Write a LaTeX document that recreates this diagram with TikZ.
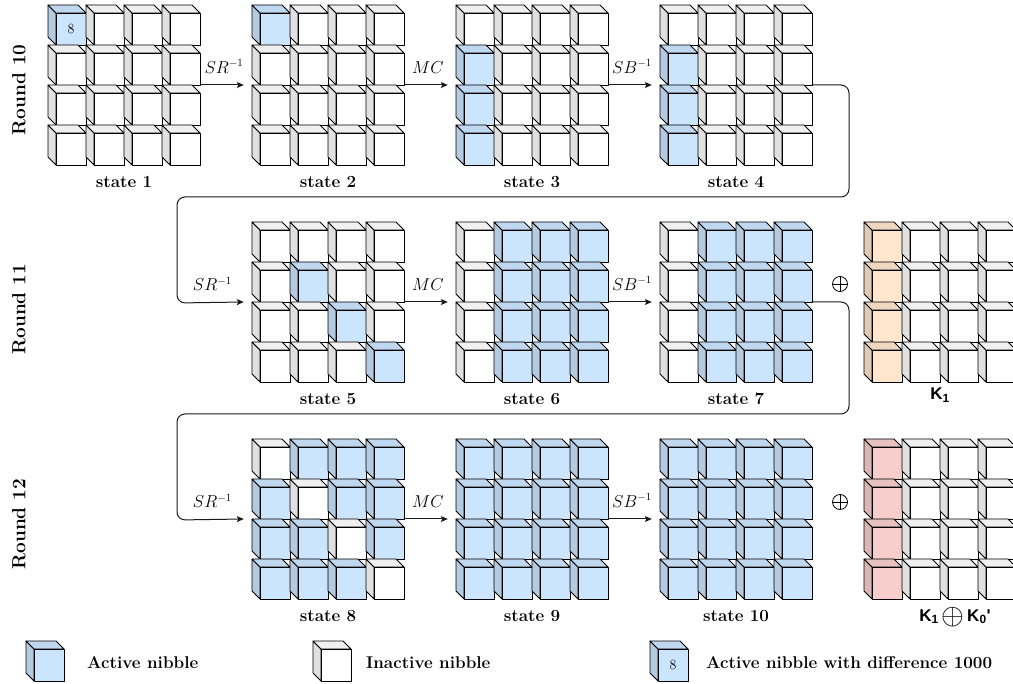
\documentclass[tikz,border=0pt]{standalone}
\usepackage{fontspec}
\newfontfamily\keyfont{Liberation Sans}
\usetikzlibrary{arrows.meta}

% nibble colours (front faces); top and side faces are darker mixes
\definecolor{nw}{HTML}{FFFFFF}
\definecolor{nb}{HTML}{CCE5FF}
\definecolor{no}{HTML}{FFE6CC}
\definecolor{nr}{HTML}{F8CECC}
\definecolor{wire}{HTML}{1A1A1A}

\tikzset{
  cubeedge/.style={draw=black, line width=0.8pt, line join=round},
  gridbox/.style={draw=none, inner sep=0pt, minimum width=152pt, minimum height=160pt},
  arr/.style={draw=wire, line width=1pt, -{Stealth[length=7pt,width=6pt,inset=1.5pt]}},
  oplbl/.style={font=\fontsize{16}{18}\selectfont, above=8pt, midway, xshift=2pt},
  statelbl/.style={font=\fontsize{17}{20}\selectfont\bfseries, anchor=base},
  roundlbl/.style={font=\fontsize{19}{22}\selectfont\bfseries, rotate=90},
  keylbl/.style={font=\fontsize{17}{20}\selectfont\keyfont\bfseries, anchor=base, inner sep=0pt},
  leglbl/.style={font=\fontsize{17}{20}\selectfont\bfseries, anchor=base west, inner sep=0pt},
  digit/.style={font=\fontsize{14}{16}\selectfont, inner sep=0pt},
  xorsym/.style={circle, draw=black, line width=0.8pt, minimum size=15pt, inner sep=0pt,
    path picture={\draw[line width=0.8pt]
      (path picture bounding box.north) -- (path picture bounding box.south)
      (path picture bounding box.west) -- (path picture bounding box.east);}},
}

% one nibble drawn as a cube; #2,#3 = back top-left corner
\newcommand\nib[3]{%
  \filldraw[cubeedge, fill=#1!88!black] (#2,#3) -- ++(8,8) -- ++(0,32) -- ++(-8,-8) -- cycle;
  \filldraw[cubeedge, fill=#1!94!black] (#2,#3) -- ++(30,0) -- ++(8,8) -- ++(-30,0) -- cycle;
  \filldraw[cubeedge, fill=#1] (#2+8,#3+8) rectangle ++(30,32);
}

% 4x4 state of nibbles, fills listed row by row
\newcommand\cubegrid[4]{%
  \node[gridbox] (#1) at (#2+76,#3+80) {};
  \foreach \f [count=\k from 0] in {#4} {%
    \pgfmathtruncatemacro\cc{mod(\k,4)}%
    \pgfmathtruncatemacro\rr{floor(\k/4)}%
    \nib{\f}{#2+38*\cc}{#3+40*\rr}%
  }%
}

\begin{document}
\begin{tikzpicture}[x=1pt, y=-1pt]
\useasboundingbox (0,0) rectangle (1013,684);
\clip (0,0) rectangle (1013,684);

% ---- Round 10
\cubegrid{s1}{48}{5}{nb,nw,nw,nw, nw,nw,nw,nw, nw,nw,nw,nw, nw,nw,nw,nw}
\node[digit] (d1) at (71,29) {8};
\cubegrid{s2}{252}{5}{nb,nw,nw,nw, nw,nw,nw,nw, nw,nw,nw,nw, nw,nw,nw,nw}
\cubegrid{s3}{456}{5}{nw,nw,nw,nw, nb,nw,nw,nw, nb,nw,nw,nw, nb,nw,nw,nw}
\cubegrid{s4}{660}{5}{nw,nw,nw,nw, nb,nw,nw,nw, nb,nw,nw,nw, nb,nw,nw,nw}

% ---- Round 11
\cubegrid{s5}{252}{222}{nw,nw,nw,nw, nw,nb,nw,nw, nw,nw,nb,nw, nw,nw,nw,nb}
\cubegrid{s6}{456}{222}{nw,nb,nb,nb, nw,nb,nb,nb, nw,nb,nb,nb, nw,nb,nb,nb}
\cubegrid{s7}{660}{222}{nw,nb,nb,nb, nw,nb,nb,nb, nw,nb,nb,nb, nw,nb,nb,nb}
\cubegrid{k1}{864}{222}{no,nw,nw,nw, no,nw,nw,nw, no,nw,nw,nw, no,nw,nw,nw}

% ---- Round 12
\cubegrid{s8}{252}{439}{nw,nb,nb,nb, nb,nw,nb,nb, nb,nb,nw,nb, nb,nb,nb,nw}
\cubegrid{s9}{456}{439}{nb,nb,nb,nb, nb,nb,nb,nb, nb,nb,nb,nb, nb,nb,nb,nb}
\cubegrid{s10}{660}{439}{nb,nb,nb,nb, nb,nb,nb,nb, nb,nb,nb,nb, nb,nb,nb,nb}
\cubegrid{k2}{864}{439}{nr,nw,nw,nw, nr,nw,nw,nw, nr,nw,nw,nw, nr,nw,nw,nw}

% state captions
\foreach \s/\t in {s1/state 1, s2/state 2, s3/state 3, s4/state 4,
                   s5/state 5, s6/state 6, s7/state 7,
                   s8/state 8, s9/state 9, s10/state 10}
  \node[statelbl] (l\s) at ([yshift=-22pt]\s.south) {\t};
\node[keylbl] (lk1) at (940,400) {K\textsubscript{1}};
\node[keylbl] (lk2) at (955,621)
  {K\textsubscript{1}\,\raisebox{-3pt}{\scalebox{1.7}{$\oplus$}}\,K\textsubscript{0}'};

% round titles
\node[roundlbl] (r10) at (19,90) {Round 10};
\node[roundlbl] (r11) at (19,309) {Round 11};
\node[roundlbl] (r12) at (19,524) {Round 12};

% key additions
\node[xorsym] (x1) at (840,284) {};
\node[xorsym] (x2) at (840,502) {};

% transitions
\draw[arr] (s1.east) -- node[oplbl]{$SR^{-1}$} ([xshift=-8pt]s2.west);
\draw[arr] (s2.east) -- node[oplbl]{$MC$} ([xshift=-8pt]s3.west);
\draw[arr] (s3.east) -- node[oplbl]{$SB^{-1}$} ([xshift=-8pt]s4.west);
\coordinate (w1) at (849,197);
\coordinate (w2) at (177,303);
\draw[arr, rounded corners=8pt] (s4.east) -| (w1) -| (w2)
  -- node[oplbl]{$SR^{-1}$} ([xshift=-8pt]s5.west);
\draw[arr] (s5.east) -- node[oplbl]{$MC$} ([xshift=-8pt]s6.west);
\draw[arr] (s6.east) -- node[oplbl]{$SB^{-1}$} ([xshift=-8pt]s7.west);
\coordinate (w3) at (849,414);
\coordinate (w4) at (177,520);
\draw[arr, rounded corners=8pt] (s7.east) -| (w3) -| (w4)
  -- node[oplbl]{$SR^{-1}$} ([xshift=-8pt]s8.west);
\draw[arr] (s8.east) -- node[oplbl]{$MC$} ([xshift=-8pt]s9.west);
\draw[arr] (s9.east) -- node[oplbl]{$SB^{-1}$} ([xshift=-8pt]s10.west);

% legend
\nib{nb}{26}{641}
\node[leglbl] (g1) at (87,668) {Active nibble};
\nib{nw}{313}{641}
\node[leglbl] (g2) at (366,668) {Inactive nibble};
\nib{nb}{650}{641}
\node[digit] (d2) at (673,665) {8};
\node[leglbl] (g3) at (706,668) {Active nibble with difference 1000};
\end{tikzpicture}
\end{document}
